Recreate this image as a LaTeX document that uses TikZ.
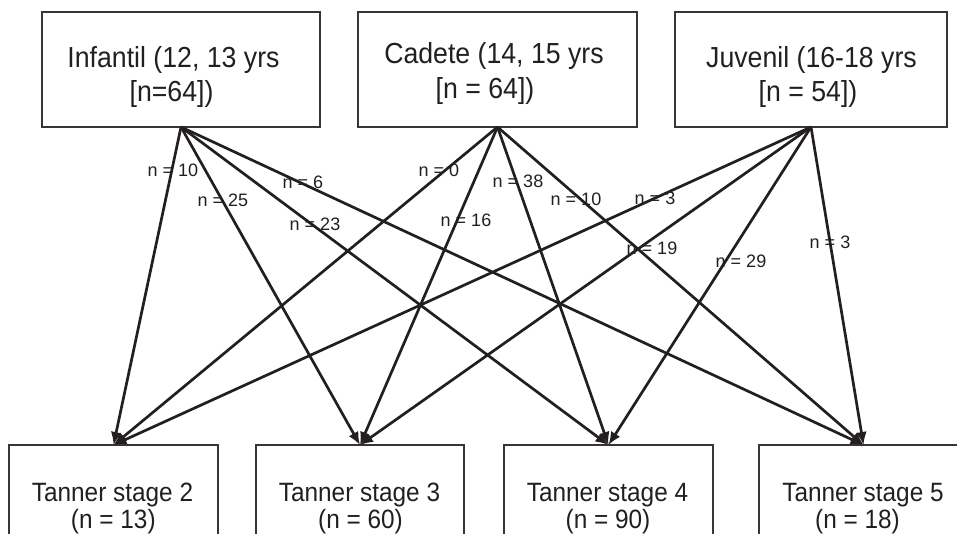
\documentclass[tikz,border=0pt]{standalone}
\usepackage{fontspec}
\setmainfont{Liberation Sans}
\newfontfamily\boxfont{Liberation Sans}[FakeStretch=0.92]
\usetikzlibrary{arrows.meta}
\definecolor{ink}{HTML}{231F20}
\begin{document}
\begin{tikzpicture}[x=1pt,y=-1pt,
  box/.style={draw=ink!90, line width=1.4pt, rectangle, inner sep=0pt, outer sep=0pt},
  ttxt/.style={font=\boxfont\fontsize{29}{34}\selectfont, anchor=base, inner sep=0pt, text=ink},
  btxt/.style={font=\boxfont\fontsize{26.5}{30}\selectfont, anchor=base, inner sep=0pt, text=ink},
  arr/.style={draw=ink, line width=2.7pt, -{Latex[length=13pt,width=11pt]}},
  lbl/.style={font=\fontsize{18}{20}\selectfont, inner sep=0pt, text=ink}]
\useasboundingbox (0,0) rectangle (957,534);
\clip (0,0) rectangle (957,534);
% top boxes
\node[box, minimum width=278pt, minimum height=115pt] (inf) at (181,69.5) {};
\node[box, minimum width=279pt, minimum height=115pt] (cad) at (497.5,69.5) {};
\node[box, minimum width=272pt, minimum height=115pt] (juv) at (811,69.5) {};
\node[ttxt] (inf1) at (173.5,67.5) {Infantil (12, 13 yrs};
\node[ttxt] (inf2) at (171.5,102) {[n=64])};
\node[ttxt] (cad1) at (494,64) {Cadete (14, 15 yrs};
\node[ttxt] (cad2) at (485,98.5) {[n = 64])};
\node[ttxt] (juv1) at (811.5,67.5) {Juvenil (16-18 yrs};
\node[ttxt] (juv2) at (808,102) {[n = 54])};
% bottom boxes
\node[box, minimum width=209pt, minimum height=120pt] (t2) at (113.5,505) {};
\node[box, minimum width=208pt, minimum height=120pt] (t3) at (360,505) {};
\node[box, minimum width=209pt, minimum height=120pt] (t4) at (608.5,505) {};
\node[box, minimum width=209pt, minimum height=120pt] (t5) at (863.5,505) {};
\node[btxt] (t2a) at (112.5,501) {Tanner stage 2};
\node[btxt] (t2b) at (113.3,528.5) {(n = 13)};
\node[btxt] (t3a) at (359.5,501) {Tanner stage 3};
\node[btxt] (t3b) at (360.5,528.5) {(n = 60)};
\node[btxt] (t4a) at (607.5,501) {Tanner stage 4};
\node[btxt] (t4b) at (608,528.5) {(n = 90)};
\node[btxt] (t5a) at (863,501) {Tanner stage 5};
\node[btxt] (t5b) at (857.5,528.5) {(n = 18)};
% connectors
\draw[arr] (inf.south) -- (t2.north);
\draw[arr] (inf.south) -- (t3.north);
\draw[arr] (inf.south) -- (t4.north);
\draw[arr] (inf.south) -- (t5.north);
\draw[arr] (cad.south) -- (t2.north);
\draw[arr] (cad.south) -- (t3.north);
\draw[arr] (cad.south) -- (t4.north);
\draw[arr] (cad.south) -- (t5.north);
\draw[arr] (juv.south) -- (t2.north);
\draw[arr] (juv.south) -- (t3.north);
\draw[arr] (juv.south) -- (t4.north);
\draw[arr] (juv.south) -- (t5.north);
% labels
\node[lbl] (l1) at (173,170) {n = 10};
\node[lbl] (l2) at (223,200) {n = 25};
\node[lbl] (l3) at (303,182) {n = 6};
\node[lbl] (l4) at (315,224) {n = 23};
\node[lbl] (l5) at (439,170) {n = 0};
\node[lbl] (l6) at (466,220) {n = 16};
\node[lbl] (l7) at (518,181) {n = 38};
\node[lbl] (l8) at (576,199) {n = 10};
\node[lbl] (l9) at (655,198) {n = 3};
\node[lbl] (l10) at (652,248) {n = 19};
\node[lbl] (l11) at (741,261) {n = 29};
\node[lbl] (l12) at (830,242) {n = 3};
\end{tikzpicture}
\end{document}
